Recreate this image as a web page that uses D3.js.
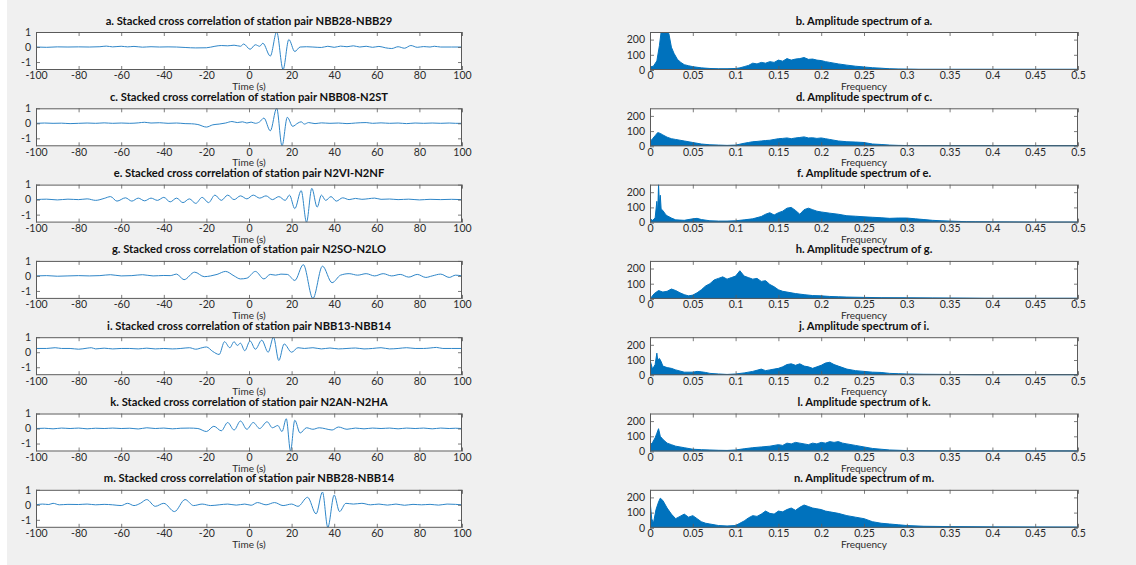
<!DOCTYPE html>
<html><head><meta charset="utf-8">
<script src="https://cdn.jsdelivr.net/npm/d3@7"></script>
<style>
html,body{margin:0;padding:0;background:#fff;}
svg{display:block;}
</style></head>
<body>
<svg id="c" width="1136" height="565"></svg>
<script>
// ---------------- DATA ----------------
const corrTitles = [
  "a. Stacked cross correlation of station pair NBB28-NBB29",
  "c. Stacked cross correlation of station pair NBB08-N2ST",
  "e. Stacked cross correlation of station pair N2VI-N2NF",
  "g. Stacked cross correlation of station pair N2SO-N2LO",
  "i. Stacked cross correlation of station pair NBB13-NBB14",
  "k. Stacked cross correlation of station pair N2AN-N2HA",
  "m. Stacked cross correlation of station pair NBB28-NBB14"
];
const specTitles = [
  "b. Amplitude spectrum of a.",
  "d. Amplitude spectrum of c.",
  "f. Amplitude spectrum of e.",
  "h. Amplitude spectrum of g.",
  "j. Amplitude spectrum of i.",
  "l. Amplitude spectrum of k.",
  "n. Amplitude spectrum of m."
];
const timeTicks = [-100,-80,-60,-40,-20,0,20,40,60,80,100];
const corrTicks = [-1,0,1];
const corrDomain = [-1.53,1];
const freqTicks = [0,0.05,0.1,0.15,0.2,0.25,0.3,0.35,0.4,0.45,0.5];
const freqTickLabels = ["0","0.05","0.1","0.15","0.2","0.25","0.3","0.35","0.4","0.45","0.5"];
const ampTicks = [0,100,200];
const ampDomain = [0,250];
const timeLabel = "Time (s)";
const freqLabel = "Frequency";

// cross-correlation waveforms (time in s, normalized amplitude)
const tA = [-100,-95,-90,-85,-80,-75,-70,-67,-64,-60,-57,-54,-50,-46,-42,-38,-34,-30,-25,-20,-16,-13,-10,-7,-4,-2.5,0.5,3,5,6.5,10,13,16,18.7,21.5,24,27,30,34,37,40,43,46,49,52,55,58,61,64,67,70,73,76,79,82,85,87,90,95,100];
const vA = [0,-0.02,0.01,0,0.01,0,0.02,0.06,0.01,0.05,0.01,0.04,-0.01,0.02,0,0.01,0,-0.03,-0.06,-0.05,0.05,0.1,0.08,0.12,0.05,0.2,-0.15,0.15,0.05,0.25,-0.6,1.0,-1.5,0.5,-0.3,0.0,0.02,0.0,-0.03,0.05,-0.02,0.06,0.02,0.08,0.0,0.05,-0.02,0.04,-0.05,-0.1,0.02,-0.08,0.1,-0.02,0.03,0,0.05,0,0,0];

const tC = [-100,-96,-92,-88,-84,-80,-76,-72,-68,-64,-60,-56,-52,-49,-46,-42,-38,-34,-30,-27,-24,-20,-17,-14,-11,-8,-5.5,-3,-1,1,3,5,7,10,13,15.5,18,20.5,23,24.5,26,28,31,34,38,42,46,50,55,58,62,66,70,74,78,82,86,90,94,97,100];
const vC = [0,0.02,0,0.01,-0.02,0,0.02,0,0.03,0,0.02,0,0.03,0.07,0.02,0.04,0,0.02,-0.02,-0.03,-0.08,-0.25,-0.1,-0.05,0.02,0.12,0.05,0.1,0.02,0.08,0.0,0.1,0.35,-0.5,1.0,-1.5,0.4,-0.2,0.02,0.1,-0.05,0.05,-0.02,0.03,0,0.02,-0.02,0.02,0.05,0.0,0.03,0,0.02,-0.02,0.02,0,0.02,0,0.02,0,0];

const tE = [-100,-95,-90,-85,-80,-76,-72,-68,-65,-62,-58,-55,-52,-49,-46,-43,-40,-37,-34,-31,-28,-25,-22,-19,-16,-13,-10,-7,-4,-1,2,5,8,11,14,17,19,21.5,24.5,27,29.5,32,34,36,38.5,41,44,47,50,53,56,59,62,66,70,75,80,85,90,95,100];
const vE = [0,0.03,-0.02,0.03,0,0.05,-0.05,0.08,0.2,-0.1,0.12,-0.1,0.1,-0.08,0.1,-0.05,0.15,-0.15,0.1,-0.2,0.05,-0.25,0.15,-0.2,0.3,-0.05,0.3,0.0,0.25,0.05,0.3,0.1,0.25,0.0,0.2,-0.05,0.3,-0.6,0.6,-1.5,0.75,-0.5,0.3,-0.05,0.2,-0.1,0.12,0.0,0.08,0.02,0.06,0.1,0.02,0.04,0,0.03,-0.02,0.02,0,0.02,0];

const tG = [-100,-95,-90,-85,-80,-75,-70,-65,-60,-55,-50,-45,-40,-37,-34,-30.5,-25.5,-21,-18,-15,-11,-7,-4,-1,3,7,10,12.5,15,18,21.5,25.5,30,34.5,39,43,47,51,55,59,63,67,71,75,79,83,86,90,94,97,100];
const vG = [0,0.02,-0.02,0.0,0.02,0,0.02,0.08,0.0,0.02,0.08,0.0,0.03,0.02,0.12,-0.25,0.25,-0.05,0.0,0.1,0.3,0.0,-0.2,-0.15,0.3,-0.2,0.1,0.05,0.12,0.1,-0.3,0.75,-1.5,0.65,-0.45,0.05,0.15,0.05,0.15,0.0,0.15,0.0,0.1,-0.08,0.1,-0.1,0.0,0.12,-0.1,0.05,0];

const tI = [-100,-95,-91,-88,-84,-80,-76,-74,-72,-68,-64,-60,-56,-52,-48,-44,-40,-36,-32,-28,-25,-22,-20,-17,-14,-11.5,-9,-7,-5.5,-4,-2,0.5,3,6,9,11.5,14,16.5,20,23,26,30,34,38,42,46,50,54,58,62,66,70,74,78,82,85,88,91,95,100];
const vI = [0.25,0.25,0.3,0.25,0.25,0.2,0.27,0.3,0.22,0.27,0.22,0.25,0.25,0.22,0.27,0.22,0.25,0.22,0.25,0.3,0.2,0.3,0.35,0.05,-0.15,0.7,0.3,0.7,0.45,0.6,0.1,0.75,0.2,0.8,0.0,1.0,-0.55,0.55,0.0,0.3,0.25,0.3,0.22,0.28,0.22,0.25,0.28,0.22,0.25,0.3,0.22,0.25,0.3,0.25,0.25,0.28,0.32,0.25,0.25,0.25];

const tK = [-100,-96,-92,-88,-84,-80,-76,-72,-68,-64,-60,-56,-52,-48,-44,-40,-36,-32,-28,-24,-20,-16.5,-13,-10,-7,-4,-1,2,5,8.5,11,13.5,15.5,17.5,19.5,21.5,24,27,30,33,36,39,42,46,50,54,58,62,66,70,74,78,82,86,90,94,97,100];
const vK = [0,0.02,-0.02,0.03,0,0.03,-0.02,0.02,0,0.03,0,0.02,-0.03,0.05,0,0.03,-0.02,0.02,0.03,0.0,-0.2,0.15,-0.15,0.4,-0.1,0.5,-0.05,0.4,0.0,0.45,0.05,0.2,-0.2,0.65,-1.5,0.55,-0.3,0.05,-0.05,0.05,-0.02,-0.1,0.1,-0.05,0.03,-0.02,0.03,0,0.03,-0.02,0.03,0,0.03,-0.02,0.03,0,0.02,0];

const tM = [-100,-97,-94,-92,-89,-85,-80,-76,-72,-68,-64,-60,-57,-54,-51,-48,-44,-40,-35,-30,-26,-22,-18,-14,-10,-6,-2,1,4,8,12,16,20,23,27.5,31.5,34.5,37,40,42.5,45.5,49,53,57,61,65,69,73,77,81,85,89,93,97,100];
const vM = [0,0.05,0.02,0.1,0.0,0.03,0.02,0.05,0.0,0.03,0.0,-0.05,0.1,-0.05,0.1,0.35,-0.1,0.1,-0.45,0.35,-0.05,0.05,-0.05,0.0,0.05,-0.02,0.05,-0.03,0.15,0.0,0.15,-0.05,0.05,-0.1,0.5,-0.6,0.85,-1.5,0.65,-0.45,0.1,0.05,0.1,0.0,0.05,-0.02,0.05,-0.03,0.03,0,0.03,-0.02,0.05,0.03,0];

// amplitude spectra (frequency, amplitude envelope)
const fB = [0,0.004,0.008,0.011,0.013,0.016,0.019,0.022,0.025,0.028,0.032,0.036,0.04,0.045,0.05,0.06,0.07,0.08,0.09,0.1,0.105,0.11,0.115,0.12,0.125,0.13,0.135,0.14,0.145,0.15,0.155,0.16,0.165,0.17,0.175,0.18,0.185,0.19,0.195,0.2,0.205,0.21,0.215,0.22,0.23,0.24,0.25,0.26,0.27,0.28,0.29,0.3,0.31,0.315,0.32,0.35,0.4,0.45,0.5];
const aB = [20,25,60,160,250,250,250,240,150,110,70,50,35,28,22,14,10,8,8,10,14,22,30,45,40,50,45,55,50,65,58,75,65,72,75,82,70,72,65,62,55,50,45,40,32,25,20,15,12,8,6,5,4,3,1,1,0.5,0.5,0];

const fD = [0,0.003,0.006,0.009,0.012,0.015,0.02,0.025,0.03,0.035,0.04,0.05,0.06,0.07,0.08,0.09,0.1,0.105,0.11,0.115,0.12,0.125,0.13,0.135,0.14,0.145,0.15,0.155,0.16,0.165,0.17,0.175,0.18,0.185,0.19,0.195,0.2,0.205,0.21,0.22,0.23,0.24,0.25,0.26,0.27,0.28,0.29,0.3,0.31,0.32,0.35,0.4,0.5];
const aD = [30,50,70,90,85,75,60,50,45,40,35,25,15,10,8,6,8,14,20,25,30,32,35,38,40,45,50,52,55,50,55,58,62,55,56,52,55,50,45,35,30,28,25,15,12,8,6,5,3,2,1,0.5,0];

const fF = [0,0.003,0.006,0.008,0.009,0.01,0.011,0.012,0.013,0.015,0.018,0.02,0.025,0.03,0.04,0.05,0.055,0.06,0.07,0.08,0.09,0.1,0.11,0.12,0.13,0.135,0.14,0.145,0.15,0.155,0.16,0.165,0.17,0.175,0.18,0.185,0.19,0.195,0.2,0.21,0.22,0.23,0.24,0.25,0.26,0.27,0.28,0.29,0.3,0.31,0.32,0.33,0.34,0.35,0.36,0.37,0.38,0.4,0.42,0.43,0.45,0.5];
const aF = [25,15,30,140,60,250,120,180,90,80,55,45,30,18,15,25,28,20,12,10,10,12,18,25,40,55,65,50,65,75,95,100,80,55,85,95,85,75,70,62,55,45,42,38,35,32,28,30,30,25,20,15,12,10,8,6,5,4,3,2,0.5,0];

const fH = [0,0.005,0.01,0.015,0.02,0.025,0.03,0.035,0.04,0.045,0.05,0.055,0.06,0.065,0.07,0.075,0.08,0.085,0.09,0.095,0.1,0.105,0.11,0.115,0.12,0.125,0.13,0.135,0.14,0.145,0.15,0.155,0.16,0.17,0.18,0.19,0.2,0.21,0.22,0.23,0.25,0.27,0.3,0.33,0.35,0.37,0.4,0.45,0.5];
const aH = [0,35,55,45,50,65,55,40,28,20,25,40,60,85,100,125,135,145,130,140,150,185,150,140,130,135,115,120,95,80,60,50,45,35,28,22,20,16,14,12,10,8,7,6,5,4,2,1,0];

const fJ = [0,0.001,0.003,0.006,0.008,0.009,0.011,0.013,0.015,0.02,0.025,0.03,0.04,0.05,0.055,0.06,0.065,0.07,0.08,0.09,0.1,0.11,0.12,0.13,0.135,0.14,0.145,0.15,0.155,0.16,0.165,0.17,0.175,0.18,0.185,0.19,0.195,0.2,0.205,0.21,0.215,0.22,0.23,0.24,0.25,0.26,0.27,0.28,0.29,0.3,0.32,0.35,0.37,0.38,0.4,0.5];
const aJ = [100,80,40,70,145,100,110,90,60,50,45,35,20,20,25,22,18,12,8,5,8,15,25,40,30,35,40,45,55,70,75,65,75,60,55,45,55,65,80,85,70,60,40,30,25,20,18,12,10,8,6,5,3,1,0.5,0];

const fL = [0,0.003,0.006,0.008,0.01,0.012,0.015,0.02,0.025,0.03,0.04,0.05,0.06,0.07,0.08,0.09,0.1,0.11,0.12,0.13,0.14,0.15,0.155,0.16,0.165,0.17,0.175,0.18,0.185,0.19,0.195,0.2,0.205,0.21,0.215,0.22,0.225,0.23,0.24,0.25,0.26,0.27,0.28,0.3,0.33,0.35,0.4,0.5];
const aL = [40,60,90,120,150,100,80,55,45,35,25,15,12,10,8,7,10,18,25,30,35,45,40,55,50,60,55,50,45,55,50,60,55,65,60,65,55,50,40,30,20,15,10,6,3,2,1,0];

const fN = [0,0.002,0.004,0.007,0.01,0.012,0.015,0.018,0.02,0.025,0.03,0.035,0.04,0.045,0.05,0.055,0.06,0.065,0.07,0.08,0.09,0.1,0.105,0.11,0.115,0.12,0.125,0.13,0.135,0.14,0.145,0.15,0.155,0.16,0.165,0.17,0.175,0.18,0.185,0.19,0.195,0.2,0.205,0.21,0.22,0.23,0.24,0.25,0.26,0.27,0.28,0.29,0.3,0.32,0.35,0.4,0.45,0.5];
const aN = [180,60,30,120,170,195,180,150,130,90,60,75,90,70,80,60,40,30,25,15,12,15,30,45,65,80,75,90,110,95,90,110,105,120,130,115,135,150,140,130,125,120,110,105,95,80,70,60,40,30,25,20,15,10,8,5,3,2];

const corrT = [tA,tC,tE,tG,tI,tK,tM];
const corrV = [vA,vC,vE,vG,vI,vK,vM];
const specF = [fB,fD,fF,fH,fJ,fL,fN];
const specA = [aB,aD,aF,aH,aJ,aL,aN];

// ---------------- LAYOUT ----------------
const W = 1136, H = 565;
const leftX0 = 36, leftX1 = 462, rightX0 = 650, rightX1 = 1078;
const top0 = 32, rowStep = 76.3, plotH = 38;
const axisColor = "#5a5a5a", textColor = "#2b2b2b";
const waveColor = "#2f86c8", specColor = "#0072BD";
const fontFam = "'Lato','Liberation Sans',sans-serif";

const svg = d3.select("#c");
svg.append("rect").attr("x",7).attr("y",0).attr("width",W-7).attr("height",H).attr("fill","#f0f0f0");

const defs = svg.append("defs");

function drawPanel(i, side) {
  const isLeft = side === "L";
  const x0 = isLeft ? leftX0 : rightX0, x1 = isLeft ? leftX1 : rightX1;
  const y0 = top0 + i*rowStep, y1 = y0 + plotH;
  const xs = isLeft ? d3.scaleLinear().domain([-100,100]).range([x0,x1])
                    : d3.scaleLinear().domain([0,0.5]).range([x0,x1]);
  const ys = isLeft ? d3.scaleLinear().domain(corrDomain).range([y1,y0])
                    : d3.scaleLinear().domain(ampDomain).range([y1,y0]);
  const g = svg.append("g");
  g.append("rect").attr("x",x0).attr("y",y0).attr("width",x1-x0).attr("height",plotH).attr("fill","#fff");

  const cid = "clip"+side+i;
  defs.append("clipPath").attr("id",cid).append("rect").attr("x",x0).attr("y",y0).attr("width",x1-x0).attr("height",plotH);
  const pg = g.append("g").attr("clip-path","url(#"+cid+")");

  if (isLeft) {
    const T = corrT[i], V = corrV[i];
    const pts = T.map((t,k)=>[t,V[k]]);
    const line = d3.line().x(d=>xs(d[0])).y(d=>ys(d[1])).curve(d3.curveMonotoneX);
    pg.append("path").attr("d",line(pts)).attr("fill","none").attr("stroke",waveColor).attr("stroke-width",1);
  } else {
    const F = specF[i], A = specA[i];
    const pts = F.map((f,k)=>[f,A[k]]);
    const area = d3.area().x(d=>xs(d[0])).y0(ys(0)).y1(d=>ys(d[1])).curve(d3.curveLinear);
    const line = d3.line().x(d=>xs(d[0])).y(d=>ys(d[1])).curve(d3.curveLinear);
    pg.append("path").attr("d",area(pts)).attr("fill",specColor);
    pg.append("path").attr("d",line(pts)).attr("fill","none").attr("stroke",specColor).attr("stroke-width",1);
    pg.append("line").attr("x1",x0).attr("x2",x1).attr("y1",y1-0.6).attr("y2",y1-0.6).attr("stroke",specColor).attr("stroke-width",1.2);
  }

  const xt = isLeft ? timeTicks : freqTicks;
  const yt = isLeft ? corrTicks : ampTicks;
  const xfmt = isLeft ? (d=>String(d)) : (d=>freqTickLabels[freqTicks.indexOf(d)]);

  const ax = g.append("g").attr("transform",`translate(0,${y1})`)
    .call(d3.axisBottom(xs).tickValues(xt).tickFormat(xfmt).tickSizeInner(-4).tickSizeOuter(0).tickPadding(2));
  const axT = g.append("g").attr("transform",`translate(0,${y0})`)
    .call(d3.axisTop(xs).tickValues(xt).tickFormat("").tickSizeInner(-4).tickSizeOuter(0));
  const ay = g.append("g").attr("transform",`translate(${x0},0)`)
    .call(d3.axisLeft(ys).tickValues(yt).tickFormat(d=>String(d)).tickSizeInner(-4).tickSizeOuter(0).tickPadding(5));
  const ayR = g.append("g").attr("transform",`translate(${x1},0)`)
    .call(d3.axisRight(ys).tickValues(yt).tickFormat("").tickSizeInner(-4).tickSizeOuter(0));
  [ax,axT,ay,ayR].forEach(a=>{
    a.select(".domain").remove();
    a.selectAll("line").attr("stroke",axisColor).attr("stroke-width",0.8);
    a.selectAll("text").attr("fill",textColor).attr("font-family",fontFam).attr("font-size",10.5);
  });
  g.append("rect").attr("x",x0+0.5).attr("y",y0+0.5).attr("width",x1-x0-1).attr("height",plotH-1)
    .attr("fill","none").attr("stroke",axisColor).attr("stroke-width",1);

  g.append("text").attr("x",(x0+x1)/2).attr("y",y0-7.5).attr("text-anchor","middle")
    .attr("font-family",fontFam).attr("font-weight","bold").attr("font-size",11.2).attr("fill","#111")
    .text(isLeft ? corrTitles[i] : specTitles[i]);
  g.append("text").attr("x",(x0+x1)/2).attr("y",y1+20).attr("text-anchor","middle")
    .attr("font-family",fontFam).attr("font-size",10).attr("fill",textColor)
    .text(isLeft ? timeLabel : freqLabel);
}

for (let i=0;i<7;i++){ drawPanel(i,"L"); drawPanel(i,"R"); }
</script>
</body></html>
